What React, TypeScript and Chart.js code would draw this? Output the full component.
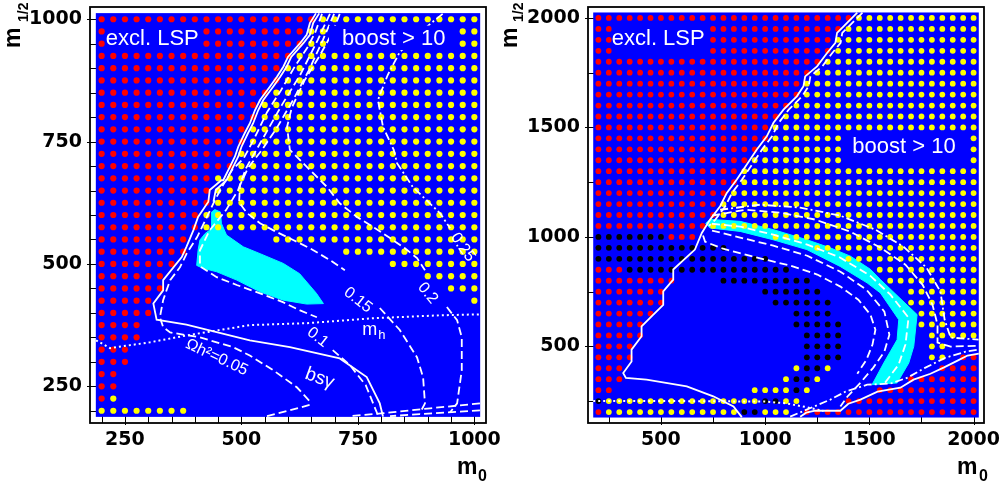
import React, { useEffect, useRef } from "react";
import { Chart, registerables } from "chart.js";
Chart.register(...registerables);

type Run = [number, number, number]; // [m1/2, m0 from, m0 to]
type Pt = [number, number]; // [m0, m1/2]

const BLUE = "#0000ff";
const CYAN = "#00ffff";
const RED = "#ff0000";
const YELLOW = "#ffff00";
const BLACK = "#000000";

// ===================== LEFT PANEL DATA =====================
const leftStep = 25;
const leftXTicks = [250, 500, 750, 1000];
const leftYTicks = [250, 500, 750, 1000];
const leftMinorTicks = [200, 250, 300, 350, 400, 450, 500, 550, 600, 650, 700, 750, 800, 850, 900, 950, 1000];

const leftRed: Run[] = [
  [1000, 200, 650], [975, 200, 625], [950, 200, 625], [925, 200, 600], [900, 200, 575],
  [875, 200, 575], [850, 200, 550], [825, 200, 525], [800, 200, 525], [775, 200, 500],
  [750, 200, 500], [725, 200, 475], [700, 200, 475], [675, 200, 425], [650, 200, 425],
  [625, 200, 425], [600, 200, 400], [575, 200, 400], [550, 200, 375], [525, 200, 375],
  [500, 200, 350], [475, 200, 325], [450, 200, 325], [425, 200, 300], [400, 200, 300],
  [375, 200, 275], [350, 200, 275], [325, 200, 250], [300, 200, 250], [275, 200, 225],
  [250, 200, 225], [225, 200, 200],
];

const leftYellow: Run[] = [
  [1000, 675, 1000], [975, 650, 1000], [950, 650, 1000], [925, 625, 1000], [900, 600, 1000],
  [875, 600, 1000], [850, 575, 1000], [825, 550, 1000], [800, 550, 1000], [775, 525, 1000],
  [750, 525, 1000], [725, 500, 1000], [700, 500, 1000], [675, 450, 1000], [650, 450, 1000],
  [625, 450, 1000], [600, 425, 1000], [575, 425, 1000], [550, 575, 1000], [525, 725, 1000],
  [500, 825, 1000], [475, 900, 1000], [450, 950, 1000], [425, 1000, 1000],
  [225, 225, 225], [200, 200, 375],
];

const leftCyan: Pt[] = [
  [436, 606], [443, 611], [455, 606], [457, 583], [468, 559], [504, 535], [540, 521],
  [590, 501], [625, 480], [661, 440], [676, 419], [640, 418], [590, 426], [540, 443],
  [490, 467], [447, 484], [418, 491], [404, 497], [407, 528], [411, 549], [422, 562], [436, 572],
];

const leftLsp: Pt[] = [
  [660, 1012], [647, 992], [640, 968], [626, 951], [600, 923], [590, 903], [576, 882],
  [561, 862], [540, 835], [529, 814], [518, 787], [507, 767], [493, 739], [486, 719],
  [475, 698], [461, 671], [457, 671], [432, 651], [429, 627], [407, 596], [397, 569],
  [382, 535], [372, 514], [332, 467], [332, 446], [311, 419], [318, 386], [382, 376],
  [518, 344], [604, 330], [711, 307], [769, 269], [797, 215], [804, 188],
];
const leftLsp2: Pt[] = [
  [667, 1012], [654, 992], [647, 968], [633, 951], [607, 923], [597, 903], [583, 882],
  [568, 862], [547, 835], [536, 814], [525, 787], [514, 767], [500, 739], [493, 719],
  [482, 698], [468, 671], [445, 651], [440, 627],
];

const leftOmega005: Pt[] = [
  [673, 1011], [658, 972], [641, 941], [615, 904], [585, 855], [555, 810], [529, 759],
  [505, 716], [480, 692], [458, 657], [443, 630], [426, 596], [405, 555], [383, 522],
  [368, 493], [347, 467], [332, 426], [325, 391], [332, 371], [347, 360], [411, 350],
  [482, 330], [518, 313], [568, 283], [619, 248], [651, 215],
];

const leftOmega01a: Pt[] = [
  [690, 1011], [664, 958], [626, 886], [587, 825], [544, 753], [510, 696], [493, 651],
  [467, 610], [432, 569], [411, 528], [411, 495], [447, 473], [490, 457], [540, 440],
  [589, 422], [626, 405], [662, 391],
];
const leftOmega01b: Pt[] = [[696, 324], [733, 293], [767, 252], [793, 191]];

const leftOmega015a: Pt[] = [
  [699, 1011], [675, 958], [645, 896], [611, 835], [576, 778], [544, 733], [514, 696],
  [497, 661], [495, 626], [512, 604], [540, 583], [576, 565], [611, 549], [647, 532],
  [690, 508], [722, 487],
];
const leftOmega015b: Pt[] = [[797, 410], [840, 365], [877, 309], [890, 268], [894, 215], [883, 195]];

const leftOmega02a: Pt[] = [
  [711, 1011], [696, 974], [669, 927], [636, 876], [608, 819], [598, 780], [604, 733],
  [641, 698], [684, 657], [711, 624], [748, 596], [787, 573], [819, 553], [851, 532],
  [877, 512], [894, 487],
];
const leftOmega02b: Pt[] = [[941, 412], [963, 385], [973, 350], [973, 283], [963, 215], [948, 197]];

const leftOmega025: Pt[] = [
  [932, 1011], [907, 992], [872, 962], [840, 933], [814, 886], [793, 835], [804, 780],
  [827, 733], [834, 706], [868, 657], [926, 604], [948, 573],
];

const leftMh: Pt[] = [
  [188, 344], [218, 328], [304, 340], [383, 354], [518, 375], [641, 379], [782, 389],
  [926, 395], [1012, 397],
];

const leftBottom1: Pt[] = [[1012, 215], [905, 205], [804, 195], [733, 189]];
const leftBottom2: Pt[] = [[1012, 201], [883, 193], [819, 189]];
const leftBottom3: Pt[] = [[555, 189], [604, 201], [651, 213]];

// ===================== RIGHT PANEL DATA =====================
const rightStep = 50;
const rightXTicks = [500, 1000, 1500, 2000];
const rightYTicks = [500, 1000, 1500, 2000];
const rightMinorTicks = [250, 500, 750, 1000, 1250, 1500, 1750, 2000];

const rightRed: Run[] = [
  [2000, 200, 1400], [1950, 200, 1350], [1900, 200, 1300], [1850, 200, 1300], [1800, 200, 1250],
  [1750, 200, 1200], [1700, 200, 1150], [1650, 200, 1150], [1600, 200, 1100], [1550, 200, 1050],
  [1500, 200, 1000], [1450, 200, 1000], [1400, 200, 950], [1350, 200, 900], [1300, 200, 850],
  [1250, 200, 850], [1200, 200, 800], [1150, 200, 750], [1100, 200, 750], [1050, 200, 700],
  [1000, 550, 650], [850, 200, 300], [800, 200, 550], [750, 200, 500], [700, 200, 500],
  [650, 200, 450], [600, 200, 400], [550, 200, 400], [500, 200, 350], [450, 200, 350],
  [400, 200, 300], [350, 200, 300], [300, 200, 250], [200, 200, 200],
  [450, 1950, 2000], [400, 1850, 2000], [350, 1700, 2000], [300, 1550, 2000],
  [250, 1400, 2000], [200, 1200, 2000],
];

const rightYellow: Run[] = [
  [2000, 1450, 2000], [1950, 1400, 2000], [1900, 1350, 2000], [1850, 1350, 2000], [1800, 1300, 2000],
  [1750, 1250, 2000], [1700, 1200, 2000], [1650, 1200, 2000], [1600, 1150, 2000], [1550, 1100, 2000],
  [1500, 1050, 2000], [1450, 1050, 2000], [1400, 1000, 2000], [1350, 950, 2000], [1300, 900, 2000],
  [1250, 900, 2000], [1200, 850, 2000], [1150, 800, 2000], [1100, 800, 2000], [1050, 750, 2000],
  [1000, 1050, 2000], [950, 1250, 2000], [900, 1400, 2000], [850, 1550, 2000], [800, 1600, 2000],
  [750, 1700, 2000], [700, 1700, 2000], [650, 1750, 2000], [600, 1750, 2000], [550, 1800, 2000],
  [500, 1800, 1850], [450, 1800, 1850], [400, 1150, 1150], [400, 1300, 1300], [350, 1100, 1100],
  [350, 1250, 1250], [300, 950, 1100], [300, 1200, 1200], [250, 250, 950], [250, 1100, 1150],
  [200, 250, 850], [200, 1000, 1100],
];

const rightBlack: Run[] = [
  [1000, 200, 500], [950, 200, 800], [900, 200, 1000], [850, 350, 1100], [800, 800, 1200],
  [750, 1000, 1250], [700, 1050, 1300], [650, 1150, 1300], [600, 1150, 1350], [550, 1200, 1350],
  [500, 1200, 1350], [450, 1200, 1350], [400, 1200, 1250], [350, 1150, 1200], [300, 1150, 1150],
  [250, 200, 200], [250, 1000, 1050], [200, 900, 950],
];

const rightCyan: Pt[] = [
  [715, 1062], [735, 1080], [880, 1071], [1040, 1033], [1200, 987], [1312, 950], [1409, 912],
  [1505, 852], [1553, 805], [1729, 645], [1713, 500], [1689, 424], [1633, 333], [1513, 325],
  [1569, 424], [1633, 530], [1641, 622], [1553, 744], [1489, 790], [1360, 865], [1200, 942],
  [1038, 987], [880, 1025], [735, 1041],
];

const rightLsp: Pt[] = [
  [1442, 2024], [1393, 1977], [1345, 1932], [1337, 1886], [1297, 1840], [1249, 1779],
  [1192, 1733], [1184, 1688], [1152, 1642], [1088, 1581], [1040, 1521], [1008, 1459],
  [960, 1399], [928, 1353], [864, 1262], [816, 1201], [784, 1140], [736, 1079], [696, 1018],
  [663, 942], [559, 851], [559, 805], [511, 751], [511, 690], [455, 637], [407, 591],
  [407, 546], [359, 485], [359, 431], [319, 378], [332, 356], [431, 348], [624, 317],
  [751, 272], [848, 226], [888, 177],
];

const rightLsp2: Pt[] = [
  [1467, 2024], [1418, 1977], [1370, 1932], [1362, 1886], [1322, 1840], [1274, 1779],
  [1217, 1733], [1209, 1688], [1177, 1642], [1113, 1581], [1065, 1521], [1033, 1459],
  [985, 1399], [953, 1353], [889, 1262], [841, 1201], [809, 1140], [761, 1079], [730, 1050],
];

const rightBandMid: Pt[] = [
  [745, 1060], [880, 1047], [1039, 1010], [1202, 965], [1361, 905], [1505, 822],
  [1601, 736], [1688, 631], [1673, 508], [1640, 416], [1572, 330],
];
const rightInnerA: Pt[] = [
  [745, 1029], [880, 997], [1039, 960], [1202, 914], [1361, 841], [1486, 759], [1572, 659],
  [1596, 553], [1572, 476], [1519, 403], [1457, 334], [1394, 270], [1361, 225],
];
const rightInnerB: Pt[] = [
  [702, 1006], [712, 978], [798, 946], [962, 905], [1120, 869], [1250, 828], [1361, 773],
  [1447, 713], [1505, 645], [1529, 576], [1515, 508], [1486, 439], [1442, 375],
];
const rightOuter1: Pt[] = [
  [745, 1097], [904, 1124], [1072, 1111], [1240, 1079], [1409, 1024], [1553, 951],
  [1673, 873], [1755, 782], [1803, 690], [1827, 599], [1827, 517], [1890, 499], [2024, 503],
];
const rightOuter2: Pt[] = [
  [784, 1124], [976, 1147], [1168, 1134], [1361, 1097], [1529, 1033], [1664, 955],
  [1774, 860], [1841, 750], [1861, 622], [1890, 540], [2024, 531],
];
const rightLowBoundary: Pt[] = [
  [1168, 179], [1197, 197], [1240, 206], [1361, 206], [1399, 238], [1457, 257], [1539, 293],
  [1649, 311], [1712, 348], [1793, 375], [1856, 403], [1923, 435], [1971, 458], [2025, 467],
];
const rightLowDashDot: Pt[] = [
  [1120, 179], [1313, 257], [1385, 293], [1490, 325], [1601, 330], [1683, 357],
  [1769, 403], [1865, 448], [1962, 476], [2025, 485],
];
const rightMh: Pt[] = [[175, 250], [600, 250], [1000, 248], [1100, 240], [1200, 222], [1280, 205]];

// ===================== PANEL CONFIG =====================
type Style = "solid" | "dash" | "dashdot" | "dot";
interface LineSpec { pts: Pt[]; style: Style }
interface LabelSpec {
  text: string; at: Pt; size: number; rot?: number; align?: "left" | "center";
  box?: [number, number, number, number]; sub?: string;
}
interface PanelSpec {
  offset: number; padRight: number; yAxisWidth: number; dotRadius: number;
  xRange: [number, number]; yRange: [number, number]; bg: [number, number, number, number];
  step: number; xTicks: number[]; yTicks: number[]; minor: number[];
  red: Run[]; yellow: Run[]; black: Run[]; cyan: Pt[]; lines: LineSpec[]; labels: LabelSpec[];
  yTitle: { mBase: number; subBase: number }; xTitle: { mX: number; subX: number };
}

const leftPanel: PanelSpec = {
  offset: 0, padRight: 14, yAxisWidth: 90, dotRadius: 3.1,
  xRange: [175, 1025], yRange: [175, 1025], bg: [187.5, 1012.5, 187.5, 1012.5],
  step: leftStep, xTicks: leftXTicks, yTicks: leftYTicks, minor: leftMinorTicks,
  red: leftRed, yellow: leftYellow, black: [], cyan: leftCyan,
  lines: [
    { pts: leftLsp, style: "solid" },
    { pts: leftLsp2, style: "solid" },
    { pts: leftOmega005, style: "dash" },
    { pts: leftOmega01a, style: "dash" },
    { pts: leftOmega01b, style: "dash" },
    { pts: leftOmega015a, style: "dash" },
    { pts: leftOmega015b, style: "dash" },
    { pts: leftOmega02a, style: "dash" },
    { pts: leftOmega02b, style: "dash" },
    { pts: leftOmega025, style: "dashdot" },
    { pts: leftMh, style: "dot" },
    { pts: leftBottom1, style: "dash" },
    { pts: leftBottom2, style: "dash" },
    { pts: leftBottom3, style: "dash" },
  ],
  labels: [
    { text: "excl. LSP", at: [209, 947], size: 22, align: "left", box: [210, 412, 937, 987] },
    { text: "boost > 10", at: [716, 947], size: 22, align: "left", box: [688, 962, 937, 987] },
    { text: "\u03A9h\u00B2=0.05", at: [447, 309], size: 16, rot: 25 },
    { text: "0.1", at: [664, 350], size: 16, rot: 38 },
    { text: "0.15", at: [750, 426], size: 16, rot: 38 },
    { text: "0.2", at: [900, 440], size: 16, rot: 50 },
    { text: "0.25", at: [975, 534], size: 16, rot: 55 },
    { text: "bs\u03B3", at: [668, 266], size: 19, rot: 20 },
    { text: "m", sub: "h", at: [782, 364], size: 18 },
  ],
  yTitle: { mBase: 20, subBase: 28 }, xTitle: { mX: 457, subX: 478 },
};

const rightPanel: PanelSpec = {
  offset: 500, padRight: 16, yAxisWidth: 88, dotRadius: 2.9,
  xRange: [150, 2050], yRange: [150, 2050], bg: [175, 2025, 175, 2025],
  step: rightStep, xTicks: rightXTicks, yTicks: rightYTicks, minor: rightMinorTicks,
  red: rightRed, yellow: rightYellow, black: rightBlack, cyan: rightCyan,
  lines: [
    { pts: rightLsp, style: "solid" },
    { pts: rightLsp2, style: "dash" },
    { pts: rightBandMid, style: "dash" },
    { pts: rightInnerA, style: "dash" },
    { pts: rightInnerB, style: "dash" },
    { pts: rightOuter1, style: "dash" },
    { pts: rightOuter2, style: "dashdot" },
    { pts: rightLowBoundary, style: "solid" },
    { pts: rightLowDashDot, style: "dashdot" },
    { pts: rightMh, style: "dot" },
  ],
  labels: [
    { text: "excl. LSP", at: [264, 1878], size: 22, align: "left", box: [264, 726, 1828, 1979] },
    { text: "boost > 10", at: [1418, 1385], size: 22, align: "left", box: [1375, 1976, 1325, 1481] },
  ],
  yTitle: { mBase: 17, subBase: 23 }, xTitle: { mX: 457, subX: 479 },
};

// ===================== BUILD =====================
const DASH: Record<Style, number[]> = {
  solid: [], dash: [8, 4], dashdot: [8, 3, 2, 3], dot: [2, 3],
};

function runsToPoints(runs: Run[], step: number) {
  const out: { x: number; y: number }[] = [];
  for (const [m, a, b] of runs) for (let v = a; v <= b + 0.001; v += step) out.push({ x: v, y: m });
  return out;
}

const SANS = '"Liberation Sans", Arial, sans-serif';

function makePlugin(p: PanelSpec) {
  return {
    id: "panelDecor",
    beforeDatasetsDraw(chart: any) {
      const { ctx, chartArea: a } = chart;
      const xs = chart.scales.x, ys = chart.scales.y;
      ctx.save();
      ctx.strokeStyle = "#000";
      ctx.lineWidth = 1;
      for (const v of p.minor) {
        const px = Math.round(xs.getPixelForValue(v)) + 0.5;
        const major = p.xTicks.includes(v);
        ctx.beginPath(); ctx.moveTo(px, a.bottom + (major ? 2 : 0)); ctx.lineTo(px, a.bottom - 7); ctx.stroke();
        const py = Math.round(ys.getPixelForValue(v)) + 0.5;
        ctx.beginPath(); ctx.moveTo(a.left - (major ? 3 : 0), py); ctx.lineTo(a.left + 7, py); ctx.stroke();
      }
      const [bx0, bx1, by0, by1] = p.bg;
      const x0 = xs.getPixelForValue(bx0), x1 = xs.getPixelForValue(bx1);
      const y0 = ys.getPixelForValue(by1), y1 = ys.getPixelForValue(by0);
      ctx.fillStyle = BLUE;
      ctx.fillRect(x0, y0, x1 - x0, y1 - y0);
      ctx.restore();
    },
    afterDatasetsDraw(chart: any) {
      const { ctx } = chart;
      const xs = chart.scales.x, ys = chart.scales.y;
      ctx.save();
      for (const l of p.labels) {
        const px = xs.getPixelForValue(l.at[0]);
        const py = ys.getPixelForValue(l.at[1]);
        if (l.box) {
          const bx0 = xs.getPixelForValue(l.box[0]), bx1 = xs.getPixelForValue(l.box[1]);
          const by0 = ys.getPixelForValue(l.box[3]), by1 = ys.getPixelForValue(l.box[2]);
          ctx.fillStyle = BLUE;
          ctx.fillRect(bx0, by0, bx1 - bx0, by1 - by0);
        }
        ctx.fillStyle = "#fff";
        ctx.font = `${l.size}px ${SANS}`;
        ctx.save();
        ctx.translate(px, py);
        if (l.rot) ctx.rotate((l.rot * Math.PI) / 180);
        if (l.align === "left") {
          ctx.textAlign = "left"; ctx.textBaseline = "alphabetic";
          ctx.fillText(l.text, 0, 0);
        } else if (l.sub) {
          ctx.textAlign = "left"; ctx.textBaseline = "alphabetic";
          const w = ctx.measureText(l.text).width;
          ctx.fillText(l.text, -w / 2 - 3, 4);
          ctx.font = `${Math.round(l.size * 0.72)}px ${SANS}`;
          ctx.fillText(l.sub, w / 2 - 2, 8);
        } else {
          ctx.textAlign = "center"; ctx.textBaseline = "middle";
          ctx.fillText(l.text, 0, 0);
        }
        ctx.restore();
      }
      ctx.restore();
    },
    afterDraw(chart: any) {
      const { ctx, chartArea: a } = chart;
      ctx.save();
      ctx.strokeStyle = "#000";
      ctx.lineWidth = 1.8;
      ctx.strokeRect(a.left, a.top, a.right - a.left, a.bottom - a.top);
      ctx.fillStyle = "#000";
      // y title m_{1/2}
      ctx.save();
      ctx.translate(p.yTitle.mBase, 48);
      ctx.rotate(-Math.PI / 2);
      ctx.font = `bold 23px ${SANS}`;
      ctx.textAlign = "left"; ctx.textBaseline = "alphabetic";
      ctx.fillText("m", 0, 0);
      ctx.restore();
      ctx.save();
      ctx.translate(p.yTitle.subBase, 22);
      ctx.rotate(-Math.PI / 2);
      ctx.font = `bold 14px ${SANS}`;
      ctx.fillText("1/2", 0, 0);
      ctx.restore();
      // x title m_0
      ctx.font = `bold 23px ${SANS}`;
      ctx.textAlign = "left"; ctx.textBaseline = "alphabetic";
      ctx.fillText("m", p.xTitle.mX, 474);
      ctx.font = `bold 16px ${SANS}`;
      ctx.fillText("0", p.xTitle.subX, 481);
      ctx.restore();
    },
  };
}

function buildConfig(p: PanelSpec): any {
  const dotDs = (runs: Run[], color: string) => ({
    type: "scatter",
    data: runsToPoints(runs, p.step),
    pointRadius: p.dotRadius,
    pointHoverRadius: p.dotRadius,
    pointBackgroundColor: color,
    pointBorderWidth: 0,
    showLine: false,
    order: 20,
  });
  const datasets: any[] = [
    {
      type: "scatter",
      data: [...p.cyan, p.cyan[0]].map(([x, y]) => ({ x, y })),
      showLine: true,
      fill: "shape",
      backgroundColor: CYAN,
      borderColor: CYAN,
      borderWidth: 1,
      pointRadius: 0,
      order: 40,
    },
    dotDs(p.red, RED),
    dotDs(p.yellow, YELLOW),
    dotDs(p.black, BLACK),
    ...p.lines.map((l) => ({
      type: "scatter",
      data: l.pts.map(([x, y]) => ({ x, y })),
      showLine: true,
      fill: false,
      borderColor: "#ffffff",
      borderWidth: l.style === "dot" ? 2 : 1.8,
      borderDash: DASH[l.style],
      pointRadius: 0,
      order: 5,
    })),
  ];
  const tickFont = { family: '"DejaVu Sans", sans-serif', weight: "bold", size: 19 };
  return {
    type: "scatter",
    data: { datasets },
    options: {
      animation: false,
      responsive: false,
      devicePixelRatio: 1,
      events: [],
      layout: { padding: { left: 0, right: p.padRight, top: 7, bottom: 0 } },
      plugins: { legend: { display: false }, tooltip: { enabled: false } },
      scales: {
        x: {
          type: "linear", min: p.xRange[0], max: p.xRange[1],
          afterBuildTicks: (s: any) => { s.ticks = p.xTicks.map((v) => ({ value: v })); },
          afterFit: (s: any) => { s.height = 60; s.paddingLeft = 0; s.paddingRight = 0; },
          grid: { display: false, drawTicks: false },
          border: { display: false },
          ticks: { font: tickFont, color: "#000", padding: 6, maxRotation: 0, autoSkip: false, callback: (v: any) => String(v) },
        },
        y: {
          type: "linear", min: p.yRange[0], max: p.yRange[1],
          afterBuildTicks: (s: any) => { s.ticks = p.yTicks.map((v) => ({ value: v })); },
          afterFit: (s: any) => { s.width = p.yAxisWidth; s.paddingTop = 0; s.paddingBottom = 0; },
          grid: { display: false, drawTicks: false },
          border: { display: false },
          ticks: { font: tickFont, color: "#000", padding: 8, autoSkip: false, callback: (v: any) => String(v) },
        },
      },
    },
    plugins: [makePlugin(p)],
  };
}

function Panel({ spec }: { spec: PanelSpec }) {
  const ref = useRef<HTMLCanvasElement>(null);
  useEffect(() => {
    const chart = new Chart(ref.current as HTMLCanvasElement, buildConfig(spec));
    return () => chart.destroy();
  }, [spec]);
  return (
    <canvas
      ref={ref}
      width={500}
      height={483}
      style={{ position: "absolute", left: spec.offset, top: 0, width: 500, height: 483 }}
    />
  );
}

export default function App() {
  return (
    <div style={{ position: "fixed", left: 0, top: 0, width: 1000, height: 483, background: "#fff", overflow: "hidden" }}>
      <Panel spec={leftPanel} />
      <Panel spec={rightPanel} />
    </div>
  );
}
